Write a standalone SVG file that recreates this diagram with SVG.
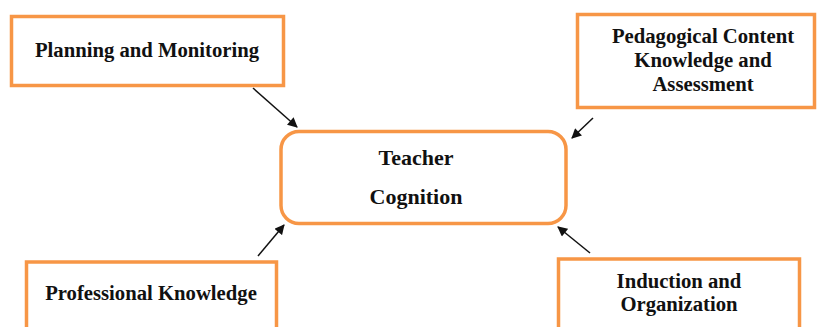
<svg xmlns="http://www.w3.org/2000/svg" width="818" height="327" viewBox="0 0 818 327">
<style>
.box{fill:#fff;stroke:#F79646;stroke-width:3.5}
.t{font-family:"Liberation Serif","Times New Roman",serif;font-weight:bold;font-size:20.7px;fill:#111;text-anchor:middle}
.c{stroke:#111;stroke-width:1.5;fill:none;marker-end:url(#ah)}
</style>
<defs>
<marker id="ah" viewBox="0 0 10 10" refX="9" refY="5" markerWidth="11" markerHeight="10" markerUnits="userSpaceOnUse" orient="auto">
<path d="M0,0 L10,5 L0,10 z" fill="#111"/>
</marker>
</defs>
<g id="connectors">
<line class="c" x1="253" y1="88" x2="297" y2="127"/>
<line class="c" x1="593" y1="118" x2="572" y2="138"/>
<line class="c" x1="258" y1="256" x2="284" y2="225"/>
<line class="c" x1="590" y1="253" x2="558" y2="227"/>
</g>
<g id="planning">
<rect class="box" x="11.5" y="16.5" width="272" height="69"/>
<text class="t" x="147" y="57">Planning and Monitoring</text>
</g>
<g id="pck">
<rect class="box" x="577.5" y="14.5" width="237" height="93"/>
<text class="t" x="703" y="43">Pedagogical Content</text>
<text class="t" x="703" y="67">Knowledge and</text>
<text class="t" x="703" y="91">Assessment</text>
</g>
<g id="teacher">
<rect class="box" x="281" y="131.5" width="285" height="92" rx="18"/>
<text class="t" x="416" y="165" style="font-size:22px">Teacher</text>
<text class="t" x="416" y="204" style="font-size:22px">Cognition</text>
</g>
<g id="professional">
<rect class="box" x="26.5" y="262" width="250" height="70"/>
<text class="t" x="151" y="300">Professional Knowledge</text>
</g>
<g id="induction">
<rect class="box" x="558.5" y="259" width="241" height="72"/>
<text class="t" x="679" y="288">Induction and</text>
<text class="t" x="679" y="311">Organization</text>
</g>
</svg>
